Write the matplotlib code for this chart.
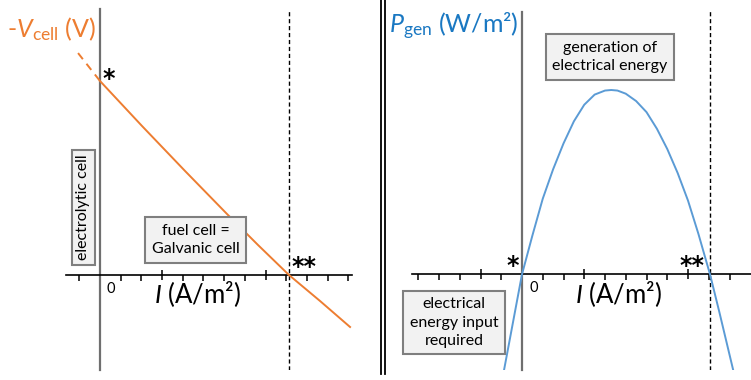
import numpy as np
import matplotlib
matplotlib.use('Agg')
import matplotlib.pyplot as plt
from matplotlib.lines import Line2D

plt.rcParams['font.family'] = ['Lato', 'DejaVu Sans']
plt.rcParams['mathtext.fontset'] = 'custom'
plt.rcParams['mathtext.rm'] = 'Lato'
plt.rcParams['mathtext.it'] = 'Lato:italic'

# ---- data (arbitrary units) ----
# left panel: -V_cell vs I
I_cell = [0.0, 2.03, 4.11, 6.14, 7.63, 9.13, 10.63, 12.08]
V_cell = [1.0, 0.768, 0.536, 0.314, 0.155, 0.0, -0.134, -0.268]
I_extrap = [-1.06, 0.0]
V_extrap = [1.144, 1.0]
I_short = 9.13          # short-circuit current (**)

# right panel: P_gen vs I
I_pow = [-0.9, -0.5, 0.0, 0.5, 1.0, 1.5, 2.0, 2.5, 3.0, 3.5, 4.0, 4.3, 4.6,
         5.0, 5.5, 6.0, 6.5, 7.0, 7.5, 8.0, 8.5, 9.06, 9.5, 10.2]
P_gen = [-0.54, -0.30, 0.0, 0.21, 0.41, 0.57, 0.71, 0.83, 0.92, 0.975, 0.997, 1.0, 0.997,
         0.98, 0.94, 0.88, 0.79, 0.68, 0.55, 0.40, 0.22, 0.0, -0.20, -0.53]
I_short_p = 9.08

orange = '#ED7D31'
blue_line = '#5B9BD5'
blue_text = '#1a78c2'
box = dict(boxstyle='square,pad=0.4', facecolor='#f2f2f2', edgecolor='#7f7f7f', linewidth=1.5)

W, H = 751, 380
fig = plt.figure(figsize=(W / 100, H / 100), dpi=100)


def px_axes(x0, x1, y0, y1):
    # axes from pixel box (y measured from top)
    return fig.add_axes([x0 / W, 1 - y1 / H, (x1 - x0) / W, (y1 - y0) / H])


def style_axes(ax, xmin, xmax, ticks, majors):
    for s in ['top', 'right']:
        ax.spines[s].set_visible(False)
    ax.spines['left'].set_position(('data', 0))
    ax.spines['bottom'].set_position(('data', 0))
    ax.spines['left'].set_color('#6f6f6f')
    ax.spines['left'].set_linewidth(1.6)
    ax.spines['bottom'].set_linewidth(1.2)
    ax.spines['bottom'].set_bounds(xmin, xmax)
    ax.set_yticks([])
    ax.set_xticks(majors)
    ax.set_xticks([t for t in ticks if t not in majors], minor=True)
    ax.tick_params(axis='x', which='major', direction='inout', length=7, width=1.1, labelbottom=False)
    ax.tick_params(axis='x', which='minor', direction='out', length=4, width=1.1)
    ax.patch.set_alpha(0)


star = dict(fontsize=17, fontweight='bold', family=['DejaVu Sans'])

# ---- left panel ----
ax1 = px_axes(60, 360, 10, 370)
ax1.set_xlim((60 - 100) / 20.7, (360 - 100) / 20.7)
ax1.set_ylim((275 - 370) / 194, (275 - 10) / 194)
style_axes(ax1, (66 - 100) / 20.7, (352 - 100) / 20.7, range(-1, 13), [3, 8])
ax1.spines['left'].set_bounds((275 - 370) / 194, (275 - 9) / 194)

ax1.plot(I_cell, V_cell, color=orange, lw=1.4, zorder=3)
ax1.plot(I_extrap, V_extrap, color=orange, lw=1.4, dashes=(4, 3), zorder=3)
ax1.axvline(I_short, color='black', lw=1, dashes=(3, 2))

ax1.text(0.1, 0.95, '*', ha='left', va='bottom', **star)
ax1.text(I_short + 0.1, -0.02, '**', ha='left', va='bottom', **star)
ax1.text(0.3, -0.035, '0', fontsize=10.5, ha='left', va='top')
ax1.text(4.69, -0.1, r'$I$ (A/m²)', fontsize=18.5, ha='center', va='center')
ax1.text(-0.8, 0.348, 'electrolytic cell', fontsize=11.5, rotation=90,
         ha='center', va='center', bbox=dict(box, boxstyle='square,pad=0.3'))
ax1.text(4.61, 0.18, 'fuel cell =\nGalvanic cell', fontsize=11.5, ha='center',
         va='center', linespacing=1.4, bbox=box)

fig.text(7 / W, 1 - 37 / H, r'-$V_{\mathrm{cell}}$ (V)', color=orange, fontsize=18,
         ha='left', va='baseline')

# ---- right panel ----
ax2 = px_axes(400, 751, 10, 370)
ax2.set_xlim((400 - 522) / 20.75, (751 - 522) / 20.75)
ax2.set_ylim((274.3 - 370) / 184.3, (274.3 - 10) / 184.3)
style_axes(ax2, (412 - 522) / 20.75, (751 - 522) / 20.75, range(-5, 11), [-2, 3, 8])
ax2.spines['left'].set_bounds((274.3 - 370) / 184.3, (274.3 - 12) / 184.3)

ax2.plot(I_pow, P_gen, color=blue_line, lw=1.4, zorder=3)
ax2.axvline(I_short_p, color='black', lw=1, dashes=(3, 2))

ax2.text(-0.15, -0.02, '*', ha='right', va='bottom', **star)
ax2.text(I_short_p - 0.3, -0.02, '**', ha='right', va='bottom', **star)
ax2.text(0.35, -0.035, '0', fontsize=10.5, ha='left', va='top')
ax2.text(4.65, -0.107, r'$I$ (A/m²)', fontsize=18.5, ha='center', va='center')
ax2.text(4.22, 1.179, 'generation of\nelectrical energy', fontsize=11.5,
         ha='center', va='center', linespacing=1.4, bbox=box)
ax2.text(-3.28, -0.262, 'electrical\nenergy input\nrequired', fontsize=11.5,
         ha='center', va='center', linespacing=1.4, bbox=box)

fig.text(389 / W, 1 - 33 / H, r'$P_{\mathrm{gen}}$ (W/m²)', color=blue_text, fontsize=18,
         ha='left', va='baseline')

# double separator line between panels
for xp in (380.5, 384.5):
    fig.add_artist(Line2D([xp / W, xp / W], [1 - 374 / H, 1.0], color='black', lw=1.3))

fig.savefig('out.png', dpi=100)
